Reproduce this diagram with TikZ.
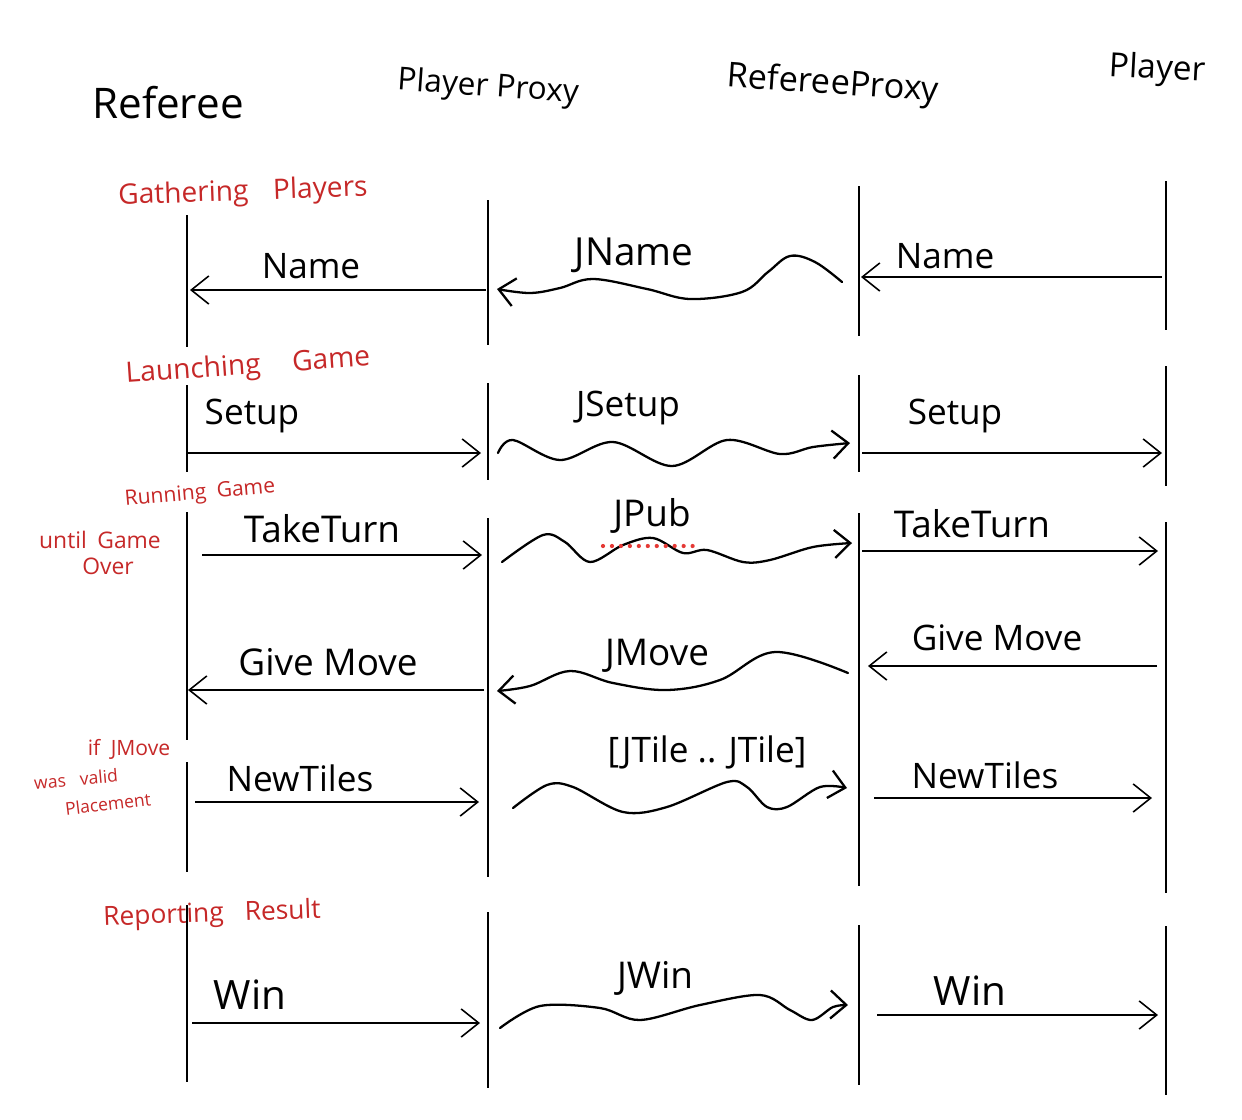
\documentclass[tikz,border=0pt]{standalone}
\usepackage{fontspec}
\setmainfont{Open Sans}
\usetikzlibrary{arrows.meta}
\definecolor{pen}{HTML}{C62828}
\definecolor{dotred}{HTML}{E53935}
\begin{document}
\begin{tikzpicture}[x=0.02cm,y=-0.02cm,
  life/.style={line width=1.4pt, black},
  msg/.style={line width=0.9pt, -{Straight Barb[length=10pt,width=16pt,line width=0.9pt]}},
  wave/.style={line width=1.3pt, line cap=round, line join=round, -{Straight Barb[length=9pt,width=16pt,line width=1.3pt]}},
  hdr/.style={font=\fontsize{22}{26}\selectfont, inner sep=0pt},
  lbl/.style={font=\fontsize{20}{24}\selectfont, inner sep=0pt},
  jlbl/.style={font=\fontsize{21}{25}\selectfont, inner sep=0pt},
  note/.style={text=pen, inner sep=0pt}
]
\useasboundingbox (0,0) rectangle (1242,1120);
\fill[white] (0,0) rectangle (1242,1120);

% headers
\node[hdr, font=\fontsize{24}{28}\selectfont] (hRef) at (168,103) {Referee};
\node[hdr, font=\fontsize{18}{22}\selectfont, rotate=-4] (hPP) at (488,88) {Player Proxy};
\node[hdr, font=\fontsize{19.5}{23}\selectfont, rotate=-4] (hRP) at (833,85) {RefereeProxy};
\node[hdr, font=\fontsize{19}{23}\selectfont, rotate=-3] (hPl) at (1157,70) {Player};

% lifeline coordinates
\coordinate (R1t) at (187,215);  \coordinate (R1b) at (187,347);
\coordinate (R2t) at (187,385);  \coordinate (R2b) at (187,472);
\coordinate (R3t) at (187,512);  \coordinate (R3b) at (187,740);
\coordinate (R4t) at (187,762);  \coordinate (R4b) at (187,872);
\coordinate (R5t) at (187,905);  \coordinate (R5b) at (187,1082);
\coordinate (P1t) at (488,200);  \coordinate (P1b) at (488,345);
\coordinate (P2t) at (488,383);  \coordinate (P2b) at (488,480);
\coordinate (P3t) at (488,518);  \coordinate (P3b) at (488,877);
\coordinate (P4t) at (488,912);  \coordinate (P4b) at (488,1088);
\coordinate (Q1t) at (859,186);  \coordinate (Q1b) at (859,336);
\coordinate (Q2t) at (859,375);  \coordinate (Q2b) at (859,472);
\coordinate (Q3t) at (859,513);  \coordinate (Q3b) at (859,886);
\coordinate (Q4t) at (859,925);  \coordinate (Q4b) at (859,1085);
\coordinate (L1t) at (1166,181); \coordinate (L1b) at (1166,330);
\coordinate (L2t) at (1166,366); \coordinate (L2b) at (1166,486);
\coordinate (L3t) at (1166,522); \coordinate (L3b) at (1166,893);
\coordinate (L4t) at (1166,926); \coordinate (L4b) at (1166,1095);
\foreach \a in {R1,R2,R3,R4,R5,P1,P2,P3,P4,Q1,Q2,Q3,Q4,L1,L2,L3,L4}
  \draw[life] (\a t) -- (\a b);

% section notes (red)
\node[note, font=\fontsize{16}{19}\selectfont, rotate=2] (nGather) at (243,193) {Gathering\hspace{14pt}Players};
\node[note, font=\fontsize{16}{19}\selectfont, rotate=4] (nLaunch) at (248,367) {Launching\hspace{18pt}Game};
\node[note, font=\fontsize{12}{14}\selectfont, rotate=5] (nRun) at (200,494) {Running\hspace{6pt}Game};
\node[note, font=\fontsize{13}{15}\selectfont] (nUntil) at (100,540) {until\hspace{6pt}Game};
\node[note, font=\fontsize{13}{15}\selectfont] (nOver) at (108,566) {Over};
\node[note, font=\fontsize{12}{14}\selectfont] (nIf) at (129,749) {if\hspace{6pt}JMove};
\node[note, font=\fontsize{10}{12}\selectfont, rotate=5] (nValid) at (76,779) {was\hspace{8pt}valid};
\node[note, font=\fontsize{10}{12}\selectfont, rotate=7] (nPlace) at (108,804) {Placement};
\node[note, font=\fontsize{15}{18}\selectfont, rotate=2] (nReport) at (212,915) {Reporting\hspace{12pt}Result};

% ---- row 1: Name
\coordinate (a1s) at (486,290); \coordinate (a1e) at (190,290);
\draw[msg] (a1s) -- (a1e);
\node[lbl] (t1a) at (311,266) {Name};
\coordinate (w1s) at (842,282); \coordinate (w1e) at (497,289);
\draw[wave] plot[smooth, tension=0.6] coordinates {(w1s) (815,262) (790,256) (768,272) (742,292) (690,299) (647,289) (593,279) (560,288) (530,293) (w1e)};
\node[jlbl, font=\fontsize{22}{26}\selectfont] (t1b) at (634,255) {JName};
\coordinate (c1s) at (1162,277); \coordinate (c1e) at (861,277);
\draw[msg] (c1s) -- (c1e);
\node[lbl] (t1c) at (945,256) {Name};

% ---- row 2: Setup
\coordinate (a2s) at (188,453); \coordinate (a2e) at (481,453);
\draw[msg] (a2s) -- (a2e);
\node[lbl] (t2a) at (252,416) {Setup};
\coordinate (w2s) at (498,453); \coordinate (w2e) at (850,443);
\draw[wave] plot[smooth, tension=0.55] coordinates {(w2s) (513,440) (560,460) (613,442) (672,466) (727,440) (780,454) (813,447) (w2e)};
\node[jlbl, font=\fontsize{20}{24}\selectfont] (t2b) at (628,408) {JSetup};
\coordinate (c2s) at (862,453); \coordinate (c2e) at (1162,453);
\draw[msg] (c2s) -- (c2e);
\node[lbl] (t2c) at (955,416) {Setup};

% ---- row 3: TakeTurn
\coordinate (a3s) at (202,555); \coordinate (a3e) at (482,555);
\draw[msg] (a3s) -- (a3e);
\node[lbl, font=\fontsize{21}{25}\selectfont] (t3a) at (322,529) {TakeTurn};
\coordinate (w3s) at (502,562); \coordinate (w3e) at (852,543);
\draw[wave] plot[smooth, tension=0.55] coordinates {(w3s) (543,535) (565,542) (590,562) (623,545) (653,538) (683,553) (707,550) (743,562) (770,560) (813,547) (w3e)};
\node[jlbl] (t3b) at (652,516) {JPub};
\coordinate (u3s) at (603,546); \coordinate (u3e) at (695,546);
\draw[dotred, line width=2.4pt, line cap=round, dash pattern=on 0pt off 5.1pt] (u3s) -- (u3e);
\coordinate (c3s) at (862,551); \coordinate (c3e) at (1158,551);
\draw[msg] (c3s) -- (c3e);
\node[lbl, font=\fontsize{21}{25}\selectfont] (t3c) at (972,524) {TakeTurn};

% ---- row 4: Give Move
\coordinate (a4s) at (484,690); \coordinate (a4e) at (188,690);
\draw[msg] (a4s) -- (a4e);
\node[lbl, font=\fontsize{21}{25}\selectfont] (t4a) at (328,662) {Give Move};
\coordinate (w4s) at (848,673); \coordinate (w4e) at (497,691);
\draw[wave] plot[smooth, tension=0.6] coordinates {(w4s) (775,652) (720,680) (667,690) (613,683) (570,671) (530,686) (w4e)};
\node[jlbl] (t4b) at (657,656) {JMove};
\coordinate (c4s) at (1157,666); \coordinate (c4e) at (868,666);
\draw[msg] (c4s) -- (c4e);
\node[lbl] (t4c) at (997,638) {Give Move};

% ---- row 5: NewTiles
\coordinate (a5s) at (195,802); \coordinate (a5e) at (479,802);
\draw[msg] (a5s) -- (a5e);
\node[lbl] (t5a) at (300,778) {NewTiles};
\coordinate (w5s) at (513,808); \coordinate (w5e) at (847,788);
\draw[wave] plot[smooth, tension=0.55] coordinates {(w5s) (547,785) (573,787) (623,812) (667,807) (727,782) (747,787) (767,807) (787,807) (820,787) (w5e)};
\node[jlbl, font=\fontsize{20}{24}\selectfont] (t5b) at (707,752) {[JTile .. JTile]};
\coordinate (c5s) at (874,798); \coordinate (c5e) at (1152,798);
\draw[msg] (c5s) -- (c5e);
\node[lbl] (t5c) at (985,775) {NewTiles};

% ---- row 6: Win
\coordinate (a6s) at (192,1023); \coordinate (a6e) at (480,1023);
\draw[msg] (a6s) -- (a6e);
\node[lbl, font=\fontsize{23}{27}\selectfont] (t6a) at (250,995) {Win};
\coordinate (w6s) at (500,1028); \coordinate (w6e) at (848,1005);
\draw[wave] plot[smooth, tension=0.55] coordinates {(w6s) (540,1006) (600,1008) (640,1020) (700,1005) (760,995) (790,1010) (812,1020) (833,1007) (w6e)};
\node[jlbl] (t6b) at (655,978) {JWin};
\coordinate (c6s) at (877,1015); \coordinate (c6e) at (1158,1015);
\draw[msg] (c6s) -- (c6e);
\node[lbl, font=\fontsize{23}{27}\selectfont] (t6c) at (970,991) {Win};
\end{tikzpicture}
\end{document}
